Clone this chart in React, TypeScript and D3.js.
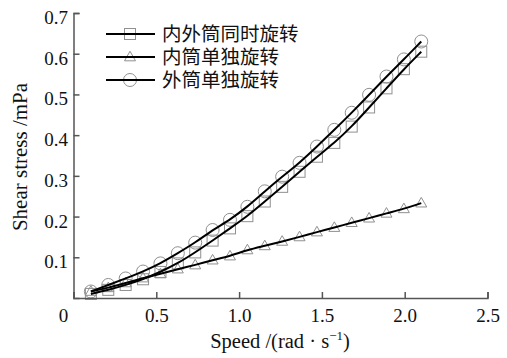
import React, { useEffect, useRef } from 'react'
import * as d3 from 'd3'

const W = 507, H = 358
const margin = { top: 13, right: 19.5, bottom: 60, left: 73.5 }

// speed (rad/s)
const speed = [0.105, 0.21, 0.315, 0.42, 0.525, 0.63, 0.735, 0.84, 0.945, 1.05,
  1.155, 1.26, 1.365, 1.47, 1.575, 1.68, 1.785, 1.89, 1.995, 2.1]
// 内外筒同时旋转 (squares)
const bothRot = [0.010, 0.020, 0.032, 0.046, 0.064, 0.085, 0.112, 0.141, 0.171, 0.201,
  0.237, 0.273, 0.310, 0.347, 0.381, 0.421, 0.468, 0.515, 0.562, 0.605]
// 内筒单独旋转 (triangles)
const innerRot = [0.016, 0.025, 0.037, 0.049, 0.059, 0.071, 0.081, 0.093, 0.103, 0.118,
  0.128, 0.139, 0.150, 0.162, 0.173, 0.185, 0.196, 0.208, 0.219, 0.233]
// 外筒单独旋转 (circles)
const outerRot = [0.016, 0.032, 0.048, 0.065, 0.085, 0.110, 0.136, 0.167, 0.192, 0.224,
  0.262, 0.298, 0.332, 0.372, 0.413, 0.455, 0.499, 0.544, 0.586, 0.630]

const legendNames = ['内外筒同时旋转', '内筒单独旋转', '外筒单独旋转']
const xTicks = [0, 0.5, 1.0, 1.5, 2.0, 2.5]
const yTicks = [0.1, 0.2, 0.3, 0.4, 0.5, 0.6, 0.7]

const serif = 'Liberation Serif, Times New Roman, serif'
const cjk = 'Noto Sans CJK SC, sans-serif'
const markerColor = '#909090'
const axisColor = '#555'

export default function App() {
  const ref = useRef<SVGSVGElement>(null)

  useEffect(() => {
    const svg = d3.select(ref.current)
    svg.selectAll('*').remove()

    const x = d3.scaleLinear().domain([0, 2.5]).range([margin.left, W - margin.right])
    const y = d3.scaleLinear().domain([0, 0.7]).range([H - margin.bottom, margin.top])

    const drawMarker = (g, kind, cx, cy) => {
      if (kind === 'circle') {
        g.append('circle').attr('cx', cx).attr('cy', cy).attr('r', 6.5)
      } else if (kind === 'square') {
        g.append('rect').attr('x', cx - 5.5).attr('y', cy - 5.5).attr('width', 11).attr('height', 11)
      } else {
        const s = 11, h = s * 0.87
        g.append('path')
          .attr('d', `M${cx},${cy - h * 0.6}L${cx + s / 2},${cy + h * 0.4}L${cx - s / 2},${cy + h * 0.4}Z`)
      }
    }

    const series = [
      { vals: bothRot, kind: 'square' },
      { vals: innerRot, kind: 'triangle' },
      { vals: outerRot, kind: 'circle' },
    ]

    // markers
    series.forEach(s => {
      const g = svg.append('g')
        .attr('fill', 'none')
        .attr('stroke', markerColor)
        .attr('stroke-width', 1)
      s.vals.forEach((v, i) => drawMarker(g, s.kind, x(speed[i]), y(v)))
    })

    // fitted lines
    const line = d3.line<number>()
      .x((_, i) => x(speed[i]))
      .y(d => y(d))
      .curve(d3.curveBasis)
    series.forEach(s => {
      svg.append('path')
        .attr('d', line(s.vals))
        .attr('fill', 'none')
        .attr('stroke', '#000')
        .attr('stroke-width', 2)
    })

    // axes
    const xAxis = svg.append('g')
      .attr('transform', `translate(0,${y(0)})`)
      .call(d3.axisBottom(x).tickValues(xTicks).tickSize(-6).tickPadding(10.5)
        .tickFormat(d => d === 0 ? '0' : d3.format('.1f')(d)))
    xAxis.select('.domain').attr('stroke', axisColor).attr('stroke-width', 1.5)
    xAxis.selectAll('.tick line').attr('stroke', axisColor).attr('stroke-width', 1.5)
    xAxis.selectAll('.tick text')
      .attr('fill', '#111')
      .attr('font-family', serif)
      .attr('font-size', 19)
    xAxis.selectAll('.tick').filter(d => d === 0).select('text').attr('x', -10.5)
    xAxis.attr('font-family', null).attr('font-size', null)

    const yAxis = svg.append('g')
      .attr('transform', `translate(${x(0)},0)`)
      .call(d3.axisLeft(y).tickValues(yTicks).tickSize(-6).tickPadding(5.5)
        .tickFormat(d3.format('.1f')))
    yAxis.select('.domain').attr('stroke', axisColor).attr('stroke-width', 1.5)
    yAxis.selectAll('.tick line').attr('stroke', axisColor).attr('stroke-width', 1.5)
    yAxis.selectAll('.tick text')
      .attr('fill', '#111')
      .attr('dy', '0.55em')
      .attr('font-family', serif)
      .attr('font-size', 19)
    yAxis.attr('font-family', null).attr('font-size', null)

    // axis titles
    const xt = svg.append('text')
      .attr('x', 280)
      .attr('y', 348)
      .attr('text-anchor', 'middle')
      .attr('font-family', serif)
      .attr('font-size', 20.5)
      .attr('fill', '#111')
    xt.append('tspan').text('Speed /(rad · s')
    xt.append('tspan').attr('dy', -8).attr('font-size', 13).text('−1')
    xt.append('tspan').attr('dy', 8).text(')')

    svg.append('text')
      .attr('transform', `translate(27,157) rotate(-90)`)
      .attr('text-anchor', 'middle')
      .attr('font-family', serif)
      .attr('font-size', 21)
      .attr('fill', '#111')
      .text('Shear stress /mPa')

    // legend
    const rows = [34, 57, 80]
    series.forEach((s, i) => {
      const g = svg.append('g')
      const gm = g.append('g').attr('fill', 'none').attr('stroke', markerColor)
      drawMarker(gm, s.kind, 130, rows[i])
      g.append('line')
        .attr('x1', 106).attr('x2', 155)
        .attr('y1', rows[i]).attr('y2', rows[i])
        .attr('stroke', '#000').attr('stroke-width', 2)
      g.append('text')
        .attr('x', 162)
        .attr('y', rows[i] + 7)
        .attr('font-family', cjk)
        .attr('font-size', 19.5)
        .attr('fill', '#111')
        .text(legendNames[i])
    })
  }, [])

  return (
    <svg ref={ref} width={W} height={H}
      style={{ position: 'absolute', left: 0, top: 0, background: '#fff' }} />
  )
}
